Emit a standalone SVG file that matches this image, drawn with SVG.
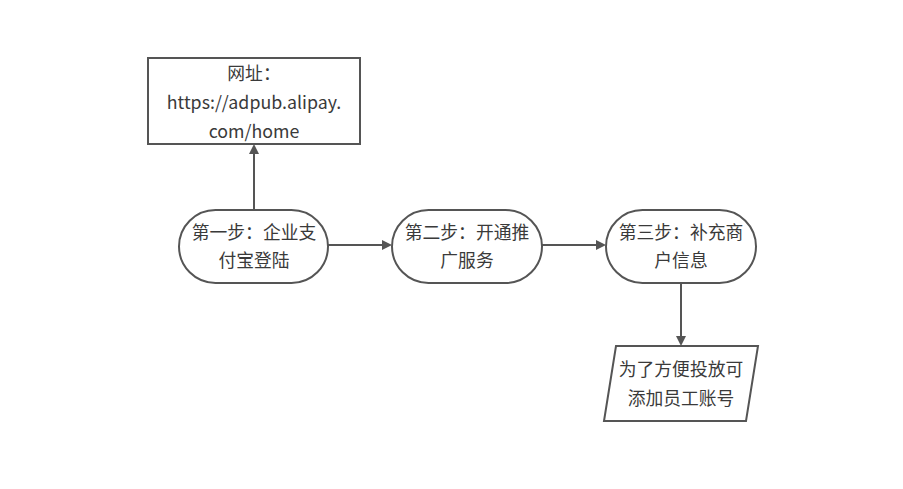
<svg xmlns="http://www.w3.org/2000/svg" width="903" height="489" viewBox="0 0 903 489">
<style>
.s{fill:#fff;stroke:#555;stroke-width:2}
.c{fill:none;stroke:#555;stroke-width:2}
text{font-family:"Microsoft YaHei","Noto Sans CJK SC",sans-serif;font-size:17.8px;fill:#3a3a3a;text-anchor:middle}
</style>
<defs>
<marker id="a" markerWidth="10" markerHeight="10" refX="8" refY="5" orient="auto" markerUnits="userSpaceOnUse">
<path d="M0,0 L10,5 L0,10 Z" fill="#555"/>
</marker>
</defs>
<rect width="903" height="489" fill="#fff"/>
<g id="connectors">
<path class="c" d="M254,210 V146" marker-end="url(#a)"/>
<path class="c" d="M328,245 H390" marker-end="url(#a)"/>
<path class="c" d="M542,245 H604" marker-end="url(#a)"/>
<path class="c" d="M681,283 V344" marker-end="url(#a)"/>
</g>
<g id="url">
<rect class="s" x="148" y="58" width="212" height="86"/>
<text x="254" y="80">网址：</text>
<text x="254" y="109">https://adpub.alipay.</text>
<text x="254" y="138">com/home</text>
</g>
<g id="step1">
<rect class="s" x="179" y="210" width="149" height="73" rx="36.5"/>
<text x="254" y="239">第一步：企业支</text>
<text x="254" y="267">付宝登陆</text>
</g>
<g id="step2">
<rect class="s" x="392" y="210" width="150" height="73" rx="36.5"/>
<text x="467" y="239">第二步：开通推</text>
<text x="467" y="267">广服务</text>
</g>
<g id="step3">
<rect class="s" x="606" y="210" width="150" height="73" rx="36.5"/>
<text x="681" y="239">第三步：补充商</text>
<text x="681" y="267">户信息</text>
</g>
<g id="note">
<polygon class="s" points="616,346 758,346 746,421 604,421"/>
<text x="681" y="376">为了方便投放可</text>
<text x="681" y="405">添加员工账号</text>
</g>
</svg>
